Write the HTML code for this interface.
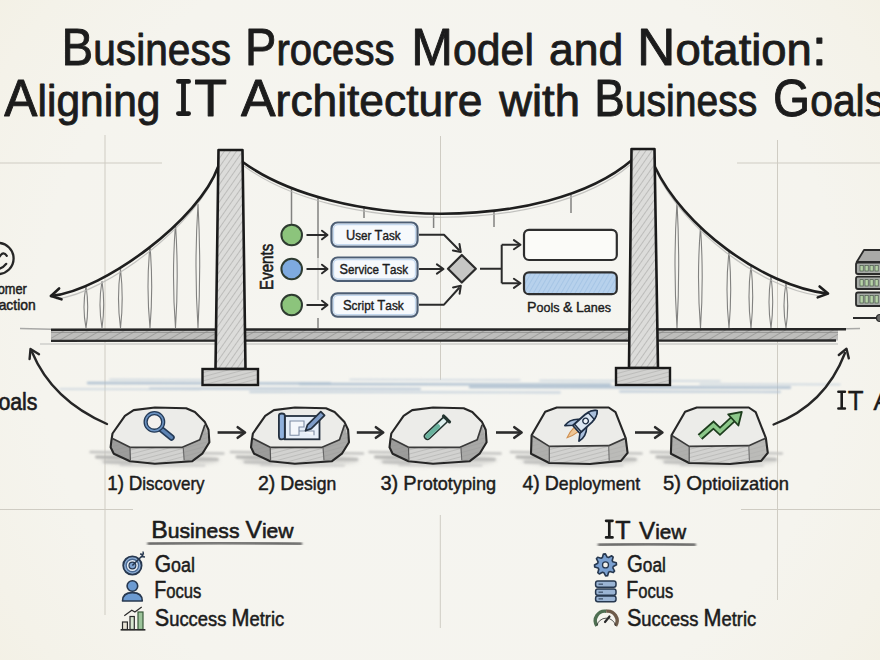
<!DOCTYPE html><html><head><meta charset="utf-8"><title>BPMN Bridge</title><style>
html,body{margin:0;padding:0;background:#f3f1e9;width:880px;height:660px;overflow:hidden}
svg{display:block}text{font-family:"Liberation Sans", sans-serif}
</style></head><body>
<svg width="880" height="660" viewBox="0 0 880 660">
<defs>
<pattern id="hatch" width="5" height="5" patternUnits="userSpaceOnUse" patternTransform="rotate(35)">
<rect width="5" height="5" fill="#dcdcda"/><line x1="0" y1="0" x2="0" y2="5" stroke="#b4b4b2" stroke-width="1.6"/></pattern>
<pattern id="hatchd" width="4" height="4" patternUnits="userSpaceOnUse" patternTransform="rotate(20)">
<rect width="4" height="4" fill="#b9b9b7"/><line x1="0" y1="0" x2="0" y2="4" stroke="#8e8e8c" stroke-width="1.3"/></pattern>
<pattern id="hatchs" width="4" height="4" patternUnits="userSpaceOnUse" patternTransform="rotate(75)">
<rect width="4" height="4" fill="#d2d2d0"/><line x1="0" y1="0" x2="0" y2="4" stroke="#b0b0ae" stroke-width="1.2"/></pattern>
<pattern id="hatchb" width="4" height="4" patternUnits="userSpaceOnUse" patternTransform="rotate(30)">
<rect width="4" height="4" fill="#b7d1ec"/><line x1="0" y1="0" x2="0" y2="4" stroke="#9fc0e3" stroke-width="1.4"/></pattern>
<pattern id="hatchdk" width="6" height="6" patternUnits="userSpaceOnUse" patternTransform="rotate(60)">
<rect width="6" height="6" fill="#bdbdbb"/><line x1="0" y1="0" x2="0" y2="6" stroke="#9f9f9d" stroke-width="2"/></pattern>
<filter id="blur2" x="-20%" y="-50%" width="140%" height="200%"><feGaussianBlur stdDeviation="2.2"/></filter>
<filter id="blur1" x="-20%" y="-50%" width="140%" height="200%"><feGaussianBlur stdDeviation="0.9"/></filter>
</defs>
<radialGradient id="bgg" cx="440" cy="330" r="575" gradientUnits="userSpaceOnUse"><stop offset="0" stop-color="#f5f5f1"/><stop offset="0.7" stop-color="#f5f4ee"/><stop offset="0.88" stop-color="#f4f2e9"/><stop offset="1" stop-color="#f3f0e4"/></radialGradient>
<rect width="880" height="660" fill="url(#bgg)"/>
<line x1="0" y1="163" x2="162" y2="163" stroke="#cfccc3" stroke-width="1"/>
<line x1="105" y1="135" x2="105" y2="615" stroke="#cfccc3" stroke-width="1"/>
<line x1="0" y1="509.5" x2="133" y2="509.5" stroke="#cfccc3" stroke-width="1"/>
<line x1="737" y1="163" x2="880" y2="163" stroke="#cfccc3" stroke-width="1"/>
<line x1="777.5" y1="140" x2="777.5" y2="600" stroke="#cfccc3" stroke-width="1"/>
<line x1="741" y1="509.5" x2="880" y2="509.5" stroke="#cfccc3" stroke-width="1"/>
<line x1="440.5" y1="136" x2="440.5" y2="380" stroke="#cfccc3" stroke-width="1"/>
<line x1="440.3" y1="515" x2="440.3" y2="628" stroke="#cfccc3" stroke-width="1"/>
<text x="61.55" y="65.00" font-size="44.0" textLength="169.46" lengthAdjust="spacingAndGlyphs" fill="#1c1c1c" stroke="#1c1c1c" stroke-width="0.90" stroke-linejoin="round"><tspan font-size="51.5">B</tspan><tspan font-size="44.0">u</tspan><tspan font-size="44.0">s</tspan><tspan font-size="44.0">i</tspan><tspan font-size="44.0">n</tspan><tspan font-size="44.0">e</tspan><tspan font-size="44.0">s</tspan><tspan font-size="44.0">s</tspan></text>
<text x="245.10" y="65.00" font-size="44.0" textLength="149.39" lengthAdjust="spacingAndGlyphs" fill="#1c1c1c" stroke="#1c1c1c" stroke-width="0.90" stroke-linejoin="round"><tspan font-size="51.5">P</tspan><tspan font-size="44.0">r</tspan><tspan font-size="44.0">o</tspan><tspan font-size="44.0">c</tspan><tspan font-size="44.0">e</tspan><tspan font-size="44.0">s</tspan><tspan font-size="44.0">s</tspan></text>
<text x="411.34" y="65.00" font-size="44.0" textLength="122.58" lengthAdjust="spacingAndGlyphs" fill="#1c1c1c" stroke="#1c1c1c" stroke-width="0.90" stroke-linejoin="round"><tspan font-size="51.5">M</tspan><tspan font-size="44.0">o</tspan><tspan font-size="44.0">d</tspan><tspan font-size="44.0">e</tspan><tspan font-size="44.0">l</tspan></text>
<text x="549.08" y="65.00" font-size="44.0" textLength="74.33" lengthAdjust="spacingAndGlyphs" fill="#1c1c1c" stroke="#1c1c1c" stroke-width="0.90" stroke-linejoin="round"><tspan font-size="44.0">a</tspan><tspan font-size="44.0">n</tspan><tspan font-size="44.0">d</tspan></text>
<text x="637.09" y="65.00" font-size="44.0" textLength="189.59" lengthAdjust="spacingAndGlyphs" fill="#1c1c1c" stroke="#1c1c1c" stroke-width="0.90" stroke-linejoin="round"><tspan font-size="51.5">N</tspan><tspan font-size="44.0">o</tspan><tspan font-size="44.0">t</tspan><tspan font-size="44.0">a</tspan><tspan font-size="44.0">t</tspan><tspan font-size="44.0">i</tspan><tspan font-size="44.0">o</tspan><tspan font-size="44.0">n</tspan><tspan font-size="51.5">:</tspan></text>
<text x="4.35" y="115.60" font-size="44.0" textLength="156.13" lengthAdjust="spacingAndGlyphs" fill="#1c1c1c" stroke="#1c1c1c" stroke-width="0.90" stroke-linejoin="round"><tspan font-size="51.5">A</tspan><tspan font-size="44.0">l</tspan><tspan font-size="44.0">i</tspan><tspan font-size="44.0">g</tspan><tspan font-size="44.0">n</tspan><tspan font-size="44.0">i</tspan><tspan font-size="44.0">n</tspan><tspan font-size="44.0">g</tspan></text>
<path d="M178.4 81.4 H188.6 M183.5 81.4 V113.6 M178.4 113.6 H188.6" fill="none" stroke="#1c1c1c" stroke-width="4.8" stroke-linecap="round"/>
<text x="194.27" y="115.60" font-size="51.50" textLength="32.81" lengthAdjust="spacingAndGlyphs" fill="#1c1c1c" stroke="#1c1c1c" stroke-width="0.90" stroke-linejoin="round" >T</text>
<text x="241.05" y="115.60" font-size="44.0" textLength="241.46" lengthAdjust="spacingAndGlyphs" fill="#1c1c1c" stroke="#1c1c1c" stroke-width="0.90" stroke-linejoin="round"><tspan font-size="51.5">A</tspan><tspan font-size="44.0">r</tspan><tspan font-size="44.0">c</tspan><tspan font-size="44.0">h</tspan><tspan font-size="44.0">i</tspan><tspan font-size="44.0">t</tspan><tspan font-size="44.0">e</tspan><tspan font-size="44.0">c</tspan><tspan font-size="44.0">t</tspan><tspan font-size="44.0">u</tspan><tspan font-size="44.0">r</tspan><tspan font-size="44.0">e</tspan></text>
<text x="499.20" y="115.60" font-size="44.0" textLength="80.82" lengthAdjust="spacingAndGlyphs" fill="#1c1c1c" stroke="#1c1c1c" stroke-width="0.90" stroke-linejoin="round"><tspan font-size="44.0">w</tspan><tspan font-size="44.0">i</tspan><tspan font-size="44.0">t</tspan><tspan font-size="44.0">h</tspan></text>
<text x="594.20" y="115.60" font-size="44.0" textLength="163.06" lengthAdjust="spacingAndGlyphs" fill="#1c1c1c" stroke="#1c1c1c" stroke-width="0.90" stroke-linejoin="round"><tspan font-size="51.5">B</tspan><tspan font-size="44.0">u</tspan><tspan font-size="44.0">s</tspan><tspan font-size="44.0">i</tspan><tspan font-size="44.0">n</tspan><tspan font-size="44.0">e</tspan><tspan font-size="44.0">s</tspan><tspan font-size="44.0">s</tspan></text>
<text x="773.06" y="115.60" font-size="44.0" textLength="111.96" lengthAdjust="spacingAndGlyphs" fill="#1c1c1c" stroke="#1c1c1c" stroke-width="0.90" stroke-linejoin="round"><tspan font-size="51.5">G</tspan><tspan font-size="44.0">o</tspan><tspan font-size="44.0">a</tspan><tspan font-size="44.0">l</tspan><tspan font-size="44.0">s</tspan></text>
<g filter="url(#blur1)">
<line x1="88" y1="383" x2="330" y2="383.5" stroke="#a9bccf" stroke-width="2.4" stroke-linecap="round" opacity="0.9"/>
<line x1="150" y1="388.5" x2="420" y2="389.0" stroke="#b5c5d5" stroke-width="2.2" stroke-linecap="round" opacity="0.9"/>
<line x1="300" y1="384" x2="610" y2="384.5" stroke="#aabdcf" stroke-width="2.4" stroke-linecap="round" opacity="0.9"/>
<line x1="250" y1="392" x2="560" y2="392.5" stroke="#c0ceda" stroke-width="1.8" stroke-linecap="round" opacity="0.9"/>
<line x1="470" y1="387" x2="790" y2="387.5" stroke="#a9bccf" stroke-width="2.4" stroke-linecap="round" opacity="0.9"/>
<line x1="620" y1="391.5" x2="780" y2="392.0" stroke="#b5c5d5" stroke-width="1.8" stroke-linecap="round" opacity="0.9"/>
<line x1="110" y1="379.5" x2="250" y2="380.0" stroke="#c5d1dc" stroke-width="1.6" stroke-linecap="round" opacity="0.9"/>
<line x1="540" y1="380.5" x2="720" y2="381.0" stroke="#c5d1dc" stroke-width="1.6" stroke-linecap="round" opacity="0.9"/>
<line x1="350" y1="379.5" x2="520" y2="380.0" stroke="#cbd5df" stroke-width="1.4" stroke-linecap="round" opacity="0.9"/>
<line x1="60" y1="389" x2="200" y2="389.5" stroke="#c5d1dc" stroke-width="1.4" stroke-linecap="round" opacity="0.9"/>
<line x1="700" y1="384" x2="840" y2="384.5" stroke="#c5d1dc" stroke-width="1.4" stroke-linecap="round" opacity="0.9"/>
</g>
<rect x="51" y="330" width="787" height="10.5" fill="url(#hatchdk)"/>
<line x1="51" y1="332.5" x2="838" y2="332.5" stroke="#8a8a88" stroke-width="1" opacity="0.7"/>
<line x1="40" y1="344" x2="838" y2="344" stroke="#d2d2ce" stroke-width="2" opacity="0.8"/>
<line x1="20" y1="328.5" x2="51" y2="329.2" stroke="#a8a8a6" stroke-width="1.4"/>
<line x1="836" y1="329" x2="860" y2="328.5" stroke="#a8a8a6" stroke-width="1.4"/>
<line x1="51" y1="329.7" x2="846" y2="329.3" stroke="#262626" stroke-width="2.5"/>
<line x1="51" y1="340.8" x2="836" y2="340.5" stroke="#2a2a2a" stroke-width="2.3"/>
<path d="M86.0 286.0 Q82.0 307.0 86.0 328.0 M86.0 286.0 Q89.4 307.0 86.0 328.0" fill="none" stroke="#828280" stroke-width="1.1"/>
<path d="M102.0 281.0 Q98.0 304.5 102.0 328.0 M102.0 281.0 Q105.4 304.5 102.0 328.0" fill="none" stroke="#828280" stroke-width="1.1"/>
<path d="M120.5 269.0 Q116.5 298.5 120.5 328.0 M120.5 269.0 Q123.9 298.5 120.5 328.0" fill="none" stroke="#828280" stroke-width="1.1"/>
<path d="M150.0 246.0 Q146.0 287.0 150.0 328.0 M150.0 246.0 Q153.4 287.0 150.0 328.0" fill="none" stroke="#828280" stroke-width="1.1"/>
<path d="M175.5 224.0 Q171.5 276.0 175.5 328.0 M175.5 224.0 Q178.9 276.0 175.5 328.0" fill="none" stroke="#828280" stroke-width="1.1"/>
<path d="M198.0 204.0 Q194.0 266.0 198.0 328.0 M198.0 204.0 Q201.4 266.0 198.0 328.0" fill="none" stroke="#828280" stroke-width="1.1"/>
<path d="M677.0 202.0 Q673.0 265.0 677.0 328.0 M677.0 202.0 Q680.4 265.0 677.0 328.0" fill="none" stroke="#828280" stroke-width="1.1"/>
<path d="M700.5 227.0 Q696.5 277.5 700.5 328.0 M700.5 227.0 Q703.9 277.5 700.5 328.0" fill="none" stroke="#828280" stroke-width="1.1"/>
<path d="M729.0 251.0 Q725.0 289.5 729.0 328.0 M729.0 251.0 Q732.4 289.5 729.0 328.0" fill="none" stroke="#828280" stroke-width="1.1"/>
<path d="M751.0 265.0 Q747.0 296.5 751.0 328.0 M751.0 265.0 Q754.4 296.5 751.0 328.0" fill="none" stroke="#828280" stroke-width="1.1"/>
<path d="M771.0 276.0 Q767.0 302.0 771.0 328.0 M771.0 276.0 Q774.4 302.0 771.0 328.0" fill="none" stroke="#828280" stroke-width="1.1"/>
<path d="M786.0 283.0 Q782.0 305.5 786.0 328.0 M786.0 283.0 Q789.4 305.5 786.0 328.0" fill="none" stroke="#828280" stroke-width="1.1"/>
<line x1="291.5" y1="188" x2="291.5" y2="224" stroke="#828280" stroke-width="1.5"/>
<line x1="318" y1="197" x2="318" y2="258" stroke="#828280" stroke-width="1.5"/>
<line x1="318" y1="258" x2="318" y2="300" stroke="#c4c4c2" stroke-width="1.2"/>
<line x1="318" y1="318" x2="318" y2="328" stroke="#828280" stroke-width="1.5"/>
<line x1="364" y1="206" x2="364" y2="218" stroke="#828280" stroke-width="1.5"/>
<line x1="433.6" y1="214" x2="433.6" y2="228" stroke="#828280" stroke-width="1.5"/>
<line x1="494" y1="210" x2="494" y2="227" stroke="#828280" stroke-width="1.5"/>
<line x1="571" y1="195" x2="571" y2="213" stroke="#828280" stroke-width="1.5"/>
<path d="M216 172 C198 222 108 293 56 299" fill="none" stroke="#b5b5b3" stroke-width="1.2" opacity="0.8"/>
<path d="M657 173 C684 229 760 288 820 296" fill="none" stroke="#b5b5b3" stroke-width="1.2" opacity="0.8"/>
<path d="M244 166 C334 233 547 236 630 165" fill="none" stroke="#b5b5b3" stroke-width="1.2" opacity="0.8"/>
<path d="M218 167 C199.6 218.6 105.5 290 51 296" fill="none" stroke="#1e1e1e" stroke-width="2.6" stroke-linecap="round"/>
<path d="M61.5 299.3 L51.0 296.0 L59.1 288.5" fill="none" stroke="#1e1e1e" stroke-width="2.6" stroke-linecap="round" stroke-linejoin="round"/>
<path d="M655 167 C682.5 225.6 761.3 285.3 827 293.6" fill="none" stroke="#1e1e1e" stroke-width="2.6" stroke-linecap="round"/>
<path d="M819.6 286.5 L828.0 293.6 L817.7 297.4" fill="none" stroke="#1e1e1e" stroke-width="2.6" stroke-linecap="round" stroke-linejoin="round"/>
<path d="M242 161.5 C334.1 229.5 547 233.2 632 160" fill="none" stroke="#1e1e1e" stroke-width="2.6" stroke-linecap="round"/>
<polygon points="218.5,150 242.5,150 245.5,369 215.5,369" fill="url(#hatch)" stroke="#1a1a1a" stroke-width="2.6" stroke-linejoin="round"/>
<rect x="202.5" y="369" width="55.5" height="16" fill="url(#hatchs)" stroke="#1a1a1a" stroke-width="2.4"/>
<polygon points="631.5,149 654.5,149 658,368 629,368" fill="url(#hatch)" stroke="#1a1a1a" stroke-width="2.6" stroke-linejoin="round"/>
<rect x="616" y="368" width="54" height="17" fill="url(#hatchs)" stroke="#1a1a1a" stroke-width="2.4"/>
<circle cx="291.7" cy="235" r="10.3" fill="#8cc47c" stroke="#2e3b30" stroke-width="2"/>
<line x1="306.5" y1="235" x2="326" y2="235" stroke="#2b2b2b" stroke-width="2"/>
<path d="M322.0 230.7 L327.5 235.0 L322.0 239.3" fill="none" stroke="#2b2b2b" stroke-width="2.0" stroke-linecap="round" stroke-linejoin="round"/>
<circle cx="291.7" cy="269" r="10.3" fill="#7eaadf" stroke="#2e3b30" stroke-width="2"/>
<line x1="306.5" y1="269" x2="326" y2="269" stroke="#2b2b2b" stroke-width="2"/>
<path d="M322.0 264.7 L327.5 269.0 L322.0 273.3" fill="none" stroke="#2b2b2b" stroke-width="2.0" stroke-linecap="round" stroke-linejoin="round"/>
<circle cx="291.7" cy="305" r="10.3" fill="#8cc47c" stroke="#2e3b30" stroke-width="2"/>
<line x1="306.5" y1="305" x2="326" y2="305" stroke="#2b2b2b" stroke-width="2"/>
<path d="M322.0 300.7 L327.5 305.0 L322.0 309.3" fill="none" stroke="#2b2b2b" stroke-width="2.0" stroke-linecap="round" stroke-linejoin="round"/>
<g transform="translate(272.5,0) rotate(-90 0 0)"><text x="-289.94" y="0.00" font-size="18.50" textLength="46.18" lengthAdjust="spacingAndGlyphs" fill="#1c1c1c" stroke="#1c1c1c" stroke-width="0.60" stroke-linejoin="round" >Events</text></g>
<rect x="331.5" y="222.5" width="86" height="24.19999999999999" rx="6" fill="#f6f9fc" stroke="#4d5e74" stroke-width="2.2"/>
<rect x="333.5" y="224.5" width="82" height="20.19999999999999" rx="4.5" fill="none" stroke="#c4d8ee" stroke-width="1.3"/>
<text x="345.91" y="239.80" font-size="13.2" textLength="54.67" lengthAdjust="spacingAndGlyphs" fill="#1c1c1c" stroke="#1c1c1c" stroke-width="0.40" stroke-linejoin="round"><tspan font-size="14.5">U</tspan><tspan font-size="13.2">s</tspan><tspan font-size="13.2">e</tspan><tspan font-size="13.2">r</tspan><tspan font-size="13.2"> </tspan><tspan font-size="14.5">T</tspan><tspan font-size="13.2">a</tspan><tspan font-size="13.2">s</tspan><tspan font-size="13.2">k</tspan></text>
<rect x="331.5" y="257.5" width="86" height="23.30000000000001" rx="6" fill="#f6f9fc" stroke="#4d5e74" stroke-width="2.2"/>
<rect x="333.5" y="259.5" width="82" height="19.30000000000001" rx="4.5" fill="none" stroke="#c4d8ee" stroke-width="1.3"/>
<text x="339.61" y="274.35" font-size="13.2" textLength="68.47" lengthAdjust="spacingAndGlyphs" fill="#1c1c1c" stroke="#1c1c1c" stroke-width="0.40" stroke-linejoin="round"><tspan font-size="14.5">S</tspan><tspan font-size="13.2">e</tspan><tspan font-size="13.2">r</tspan><tspan font-size="13.2">v</tspan><tspan font-size="13.2">i</tspan><tspan font-size="13.2">c</tspan><tspan font-size="13.2">e</tspan><tspan font-size="13.2"> </tspan><tspan font-size="14.5">T</tspan><tspan font-size="13.2">a</tspan><tspan font-size="13.2">s</tspan><tspan font-size="13.2">k</tspan></text>
<rect x="331.5" y="293.3" width="86" height="23.399999999999977" rx="6" fill="#f6f9fc" stroke="#4d5e74" stroke-width="2.2"/>
<rect x="333.5" y="295.3" width="82" height="19.399999999999977" rx="4.5" fill="none" stroke="#c4d8ee" stroke-width="1.3"/>
<text x="342.90" y="310.20" font-size="13.2" textLength="60.89" lengthAdjust="spacingAndGlyphs" fill="#1c1c1c" stroke="#1c1c1c" stroke-width="0.40" stroke-linejoin="round"><tspan font-size="14.5">S</tspan><tspan font-size="13.2">c</tspan><tspan font-size="13.2">r</tspan><tspan font-size="13.2">i</tspan><tspan font-size="13.2">p</tspan><tspan font-size="13.2">t</tspan><tspan font-size="13.2"> </tspan><tspan font-size="14.5">T</tspan><tspan font-size="13.2">a</tspan><tspan font-size="13.2">s</tspan><tspan font-size="13.2">k</tspan></text>
<path d="M419 234.7 L444 234.7 L459.5 250.5" fill="none" stroke="#2b2b2b" stroke-width="2" stroke-linejoin="round"/>
<path d="M459.5 244.1 L460.8 252.0 L452.9 250.5" fill="none" stroke="#2b2b2b" stroke-width="2.0" stroke-linecap="round" stroke-linejoin="round"/>
<line x1="419" y1="269" x2="442" y2="269" stroke="#2b2b2b" stroke-width="2"/>
<path d="M436.9 264.4 L443.5 269.0 L436.9 273.6" fill="none" stroke="#2b2b2b" stroke-width="2.0" stroke-linecap="round" stroke-linejoin="round"/>
<path d="M419 304.7 L444 304.7 L459.5 287.5" fill="none" stroke="#2b2b2b" stroke-width="2" stroke-linejoin="round"/>
<path d="M453.0 287.4 L460.8 285.8 L459.6 293.7" fill="none" stroke="#2b2b2b" stroke-width="2.0" stroke-linecap="round" stroke-linejoin="round"/>
<polygon points="461.8,255 475.8,268.7 461.8,282.5 448,268.7" fill="#c6c6c4" stroke="#2b2b2b" stroke-width="2.2" stroke-linejoin="round"/>
<path d="M480 268.7 L501.7 268.7 M501.7 244.7 L501.7 283.3 M501.7 244.7 L519 244.7 M501.7 283.3 L519 283.3" fill="none" stroke="#2b2b2b" stroke-width="2"/>
<path d="M513.9 240.1 L520.5 244.7 L513.9 249.3" fill="none" stroke="#2b2b2b" stroke-width="2.0" stroke-linecap="round" stroke-linejoin="round"/>
<path d="M513.9 278.7 L520.5 283.3 L513.9 287.9" fill="none" stroke="#2b2b2b" stroke-width="2.0" stroke-linecap="round" stroke-linejoin="round"/>
<rect x="524" y="229.8" width="92.8" height="30.2" rx="5" fill="#fbfbf8" stroke="#2e2e2e" stroke-width="2.2"/>
<rect x="524" y="272.3" width="92.8" height="21.9" rx="5" fill="url(#hatchb)" stroke="#2e2e2e" stroke-width="2.2"/>
<text x="527.04" y="312.40" font-size="13.6" textLength="84.02" lengthAdjust="spacingAndGlyphs" fill="#1c1c1c" stroke="#1c1c1c" stroke-width="0.40" stroke-linejoin="round"><tspan font-size="15.4">P</tspan><tspan font-size="13.6">o</tspan><tspan font-size="13.6">o</tspan><tspan font-size="13.6">l</tspan><tspan font-size="13.6">s</tspan><tspan font-size="13.6"> </tspan><tspan font-size="15.4">&amp;</tspan><tspan font-size="13.6"> </tspan><tspan font-size="15.4">L</tspan><tspan font-size="13.6">a</tspan><tspan font-size="13.6">n</tspan><tspan font-size="13.6">e</tspan><tspan font-size="13.6">s</tspan></text>
<ellipse cx="160.0" cy="460.0" rx="59.4" ry="6" fill="#b5b5b3" opacity="0.5" filter="url(#blur2)"/>
<g filter="url(#blur1)" stroke-linecap="round">
<line x1="90.6" y1="452.0" x2="118.6" y2="452.5" stroke="#c2c2c0" stroke-width="2.5"/>
<line x1="96.6" y1="457.0" x2="120.6" y2="457.5" stroke="#b3b3b1" stroke-width="3"/>
<line x1="104.6" y1="462.0" x2="130.6" y2="462.5" stroke="#bdbdbb" stroke-width="2.5"/>
<line x1="197.4" y1="453.0" x2="223.4" y2="453.5" stroke="#c4c4c2" stroke-width="2.5"/>
<line x1="195.4" y1="459.0" x2="217.4" y2="459.5" stroke="#b8b8b6" stroke-width="2.5"/>
<line x1="120.6" y1="465.0" x2="204.4" y2="465.5" stroke="#cfcfcd" stroke-width="2"/>
</g>
<polygon points="111.3,441.1 112.5,433.5 124.9,415.8 133.7,410.1 154.9,407.5 186.1,408.2 194.9,412.0 204.9,422.1 208.5,429.7 209.4,442.3 202.3,453.7 192.3,461.2 154.9,463.8 130.0,461.2 113.8,453.7 110.6,447.3" fill="url(#hatchs)"/>
<polygon points="111.3,441.1 112.5,438.5 130.0,447.3 130.0,461.2 113.8,453.7 110.6,447.3" fill="#8f8f8d" opacity="0.8"/>
<polygon points="182.3,447.3 199.8,439.8 204.9,424.7 209.4,442.3 202.3,453.7 192.3,461.2 183.7,461.7" fill="#979795" opacity="0.7"/>
<polygon points="112.5,438.5 112.5,433.5 124.9,415.8 133.7,410.1 154.9,407.5 186.1,408.2 194.9,412.0 204.9,422.1 204.9,424.7 199.8,439.8 182.3,447.3 130.0,447.3" fill="#ecece9"/>
<polygon points="111.3,441.1 112.5,433.5 124.9,415.8 133.7,410.1 154.9,407.5 186.1,408.2 194.9,412.0 204.9,422.1 208.5,429.7 209.4,442.3 202.3,453.7 192.3,461.2 154.9,463.8 130.0,461.2 113.8,453.7 110.6,447.3" fill="none" stroke="#262626" stroke-width="2.1" stroke-linejoin="round"/>
<polyline points="112.5,438.5 130.0,447.3 182.3,447.3 199.8,439.8 204.9,424.7" fill="none" stroke="#3a3a3a" stroke-width="1.7" stroke-linejoin="round"/>
<line x1="130.0" y1="447.3" x2="130.4" y2="460.6" stroke="#555" stroke-width="1.2"/>
<line x1="183.3" y1="447.3" x2="184.2" y2="460.0" stroke="#666" stroke-width="1"/>
<ellipse cx="300.0" cy="460.0" rx="59.0" ry="6" fill="#b5b5b3" opacity="0.5" filter="url(#blur2)"/>
<g filter="url(#blur1)" stroke-linecap="round">
<line x1="231.0" y1="452.0" x2="259.0" y2="452.5" stroke="#c2c2c0" stroke-width="2.5"/>
<line x1="237.0" y1="457.0" x2="261.0" y2="457.5" stroke="#b3b3b1" stroke-width="3"/>
<line x1="245.0" y1="462.0" x2="271.0" y2="462.5" stroke="#bdbdbb" stroke-width="2.5"/>
<line x1="337.0" y1="453.0" x2="363.0" y2="453.5" stroke="#c4c4c2" stroke-width="2.5"/>
<line x1="335.0" y1="459.0" x2="357.0" y2="459.5" stroke="#b8b8b6" stroke-width="2.5"/>
<line x1="261.0" y1="465.0" x2="344.0" y2="465.5" stroke="#cfcfcd" stroke-width="2"/>
</g>
<polygon points="251.7,441.1 252.9,433.5 265.2,415.8 273.9,410.1 294.9,407.5 325.9,408.2 334.6,412.0 344.5,422.1 348.1,429.7 349.0,442.3 341.9,453.7 332.0,461.2 294.9,463.8 270.2,461.2 254.1,453.7 251.0,447.3" fill="url(#hatchs)"/>
<polygon points="251.7,441.1 252.9,438.5 270.2,447.3 270.2,461.2 254.1,453.7 251.0,447.3" fill="#8f8f8d" opacity="0.8"/>
<polygon points="322.1,447.3 339.5,439.8 344.5,424.7 349.0,442.3 341.9,453.7 332.0,461.2 323.5,461.7" fill="#979795" opacity="0.7"/>
<polygon points="252.9,438.5 252.9,433.5 265.2,415.8 273.9,410.1 294.9,407.5 325.9,408.2 334.6,412.0 344.5,422.1 344.5,424.7 339.5,439.8 322.1,447.3 270.2,447.3" fill="#ecece9"/>
<polygon points="251.7,441.1 252.9,433.5 265.2,415.8 273.9,410.1 294.9,407.5 325.9,408.2 334.6,412.0 344.5,422.1 348.1,429.7 349.0,442.3 341.9,453.7 332.0,461.2 294.9,463.8 270.2,461.2 254.1,453.7 251.0,447.3" fill="none" stroke="#262626" stroke-width="2.1" stroke-linejoin="round"/>
<polyline points="252.9,438.5 270.2,447.3 322.1,447.3 339.5,439.8 344.5,424.7" fill="none" stroke="#3a3a3a" stroke-width="1.7" stroke-linejoin="round"/>
<line x1="270.2" y1="447.3" x2="270.6" y2="460.6" stroke="#555" stroke-width="1.2"/>
<line x1="323.1" y1="447.3" x2="324.0" y2="460.0" stroke="#666" stroke-width="1"/>
<ellipse cx="438.1" cy="460.0" rx="58.6" ry="6" fill="#b5b5b3" opacity="0.5" filter="url(#blur2)"/>
<g filter="url(#blur1)" stroke-linecap="round">
<line x1="369.5" y1="452.0" x2="397.5" y2="452.5" stroke="#c2c2c0" stroke-width="2.5"/>
<line x1="375.5" y1="457.0" x2="399.5" y2="457.5" stroke="#b3b3b1" stroke-width="3"/>
<line x1="383.5" y1="462.0" x2="409.5" y2="462.5" stroke="#bdbdbb" stroke-width="2.5"/>
<line x1="474.6" y1="453.0" x2="500.6" y2="453.5" stroke="#c4c4c2" stroke-width="2.5"/>
<line x1="472.6" y1="459.0" x2="494.6" y2="459.5" stroke="#b8b8b6" stroke-width="2.5"/>
<line x1="399.5" y1="465.0" x2="481.6" y2="465.5" stroke="#cfcfcd" stroke-width="2"/>
</g>
<polygon points="390.2,441.1 391.3,433.5 403.6,415.8 412.2,410.1 433.0,407.5 463.7,408.2 472.3,412.0 482.1,422.1 485.7,429.7 486.6,442.3 479.6,453.7 469.8,461.2 433.0,463.8 408.5,461.2 392.6,453.7 389.5,447.3" fill="url(#hatchs)"/>
<polygon points="390.2,441.1 391.3,438.5 408.5,447.3 408.5,461.2 392.6,453.7 389.5,447.3" fill="#8f8f8d" opacity="0.8"/>
<polygon points="460.0,447.3 477.2,439.8 482.1,424.7 486.6,442.3 479.6,453.7 469.8,461.2 461.4,461.7" fill="#979795" opacity="0.7"/>
<polygon points="391.3,438.5 391.3,433.5 403.6,415.8 412.2,410.1 433.0,407.5 463.7,408.2 472.3,412.0 482.1,422.1 482.1,424.7 477.2,439.8 460.0,447.3 408.5,447.3" fill="#ecece9"/>
<polygon points="390.2,441.1 391.3,433.5 403.6,415.8 412.2,410.1 433.0,407.5 463.7,408.2 472.3,412.0 482.1,422.1 485.7,429.7 486.6,442.3 479.6,453.7 469.8,461.2 433.0,463.8 408.5,461.2 392.6,453.7 389.5,447.3" fill="none" stroke="#262626" stroke-width="2.1" stroke-linejoin="round"/>
<polyline points="391.3,438.5 408.5,447.3 460.0,447.3 477.2,439.8 482.1,424.7" fill="none" stroke="#3a3a3a" stroke-width="1.7" stroke-linejoin="round"/>
<line x1="408.5" y1="447.3" x2="408.9" y2="460.6" stroke="#555" stroke-width="1.2"/>
<line x1="461.0" y1="447.3" x2="461.8" y2="460.0" stroke="#666" stroke-width="1"/>
<ellipse cx="579.3" cy="460.0" rx="58.3" ry="6" fill="#b5b5b3" opacity="0.5" filter="url(#blur2)"/>
<g filter="url(#blur1)" stroke-linecap="round">
<line x1="511.0" y1="452.0" x2="539.0" y2="452.5" stroke="#c2c2c0" stroke-width="2.5"/>
<line x1="517.0" y1="457.0" x2="541.0" y2="457.5" stroke="#b3b3b1" stroke-width="3"/>
<line x1="525.0" y1="462.0" x2="551.0" y2="462.5" stroke="#bdbdbb" stroke-width="2.5"/>
<line x1="615.6" y1="453.0" x2="641.6" y2="453.5" stroke="#c4c4c2" stroke-width="2.5"/>
<line x1="613.6" y1="459.0" x2="635.6" y2="459.5" stroke="#b8b8b6" stroke-width="2.5"/>
<line x1="541.0" y1="465.0" x2="622.6" y2="465.5" stroke="#cfcfcd" stroke-width="2"/>
</g>
<polygon points="531.6,435.3 545.2,411.7 556.8,407.5 608.7,407.5 615.5,412.1 625.7,438.1 627.6,452.8 621.0,460.9 590.0,464.0 549.3,463.0 531.0,453.8" fill="url(#hatchs)"/>
<polygon points="531.6,435.3 549.3,446.4 549.3,463.0 531.0,453.8" fill="#a6a6a4" opacity="0.8"/>
<polygon points="608.7,445.7 625.7,438.1 627.6,452.8 621.0,460.9 609.2,462.3" fill="#b0b0ae" opacity="0.7"/>
<polygon points="531.6,435.3 545.2,411.7 556.8,407.5 608.7,407.5 615.5,412.1 625.7,438.1 608.7,445.7 549.3,446.4" fill="#ecece9"/>
<polygon points="531.6,435.3 545.2,411.7 556.8,407.5 608.7,407.5 615.5,412.1 625.7,438.1 627.6,452.8 621.0,460.9 590.0,464.0 549.3,463.0 531.0,453.8" fill="none" stroke="#262626" stroke-width="2.1" stroke-linejoin="round"/>
<polyline points="531.6,435.3 549.3,446.4 608.7,445.7 625.7,438.1" fill="none" stroke="#3a3a3a" stroke-width="1.7" stroke-linejoin="round"/>
<line x1="549.3" y1="446.4" x2="549.3" y2="462.6" stroke="#555" stroke-width="1.2"/>
<line x1="608.7" y1="445.7" x2="609.2" y2="461.7" stroke="#666" stroke-width="1"/>
<ellipse cx="719.3" cy="460.0" rx="58.4" ry="6" fill="#b5b5b3" opacity="0.5" filter="url(#blur2)"/>
<g filter="url(#blur1)" stroke-linecap="round">
<line x1="650.9" y1="452.0" x2="678.9" y2="452.5" stroke="#c2c2c0" stroke-width="2.5"/>
<line x1="656.9" y1="457.0" x2="680.9" y2="457.5" stroke="#b3b3b1" stroke-width="3"/>
<line x1="664.9" y1="462.0" x2="690.9" y2="462.5" stroke="#bdbdbb" stroke-width="2.5"/>
<line x1="755.8" y1="453.0" x2="781.8" y2="453.5" stroke="#c4c4c2" stroke-width="2.5"/>
<line x1="753.8" y1="459.0" x2="775.8" y2="459.5" stroke="#b8b8b6" stroke-width="2.5"/>
<line x1="680.9" y1="465.0" x2="762.8" y2="465.5" stroke="#cfcfcd" stroke-width="2"/>
</g>
<polygon points="671.5,435.3 685.1,411.7 696.8,407.5 748.8,407.5 755.7,412.1 765.9,438.1 767.8,452.8 761.2,460.9 730.1,464.0 689.2,463.0 670.9,453.8" fill="url(#hatchs)"/>
<polygon points="671.5,435.3 689.2,446.4 689.2,463.0 670.9,453.8" fill="#a6a6a4" opacity="0.8"/>
<polygon points="748.8,445.7 765.9,438.1 767.8,452.8 761.2,460.9 749.4,462.3" fill="#b0b0ae" opacity="0.7"/>
<polygon points="671.5,435.3 685.1,411.7 696.8,407.5 748.8,407.5 755.7,412.1 765.9,438.1 748.8,445.7 689.2,446.4" fill="#ecece9"/>
<polygon points="671.5,435.3 685.1,411.7 696.8,407.5 748.8,407.5 755.7,412.1 765.9,438.1 767.8,452.8 761.2,460.9 730.1,464.0 689.2,463.0 670.9,453.8" fill="none" stroke="#262626" stroke-width="2.1" stroke-linejoin="round"/>
<polyline points="671.5,435.3 689.2,446.4 748.8,445.7 765.9,438.1" fill="none" stroke="#3a3a3a" stroke-width="1.7" stroke-linejoin="round"/>
<line x1="689.2" y1="446.4" x2="689.2" y2="462.6" stroke="#555" stroke-width="1.2"/>
<line x1="748.8" y1="445.7" x2="749.4" y2="461.7" stroke="#666" stroke-width="1"/>
<line x1="217.6" y1="432.5" x2="244" y2="432.5" stroke="#2b2b2b" stroke-width="2.6"/>
<path d="M237.7 427.2 L245.0 432.5 L237.7 437.8" fill="none" stroke="#2b2b2b" stroke-width="2.6" stroke-linecap="round" stroke-linejoin="round"/>
<line x1="356.8" y1="432.5" x2="382.2" y2="432.5" stroke="#2b2b2b" stroke-width="2.6"/>
<path d="M375.9 427.2 L383.2 432.5 L375.9 437.8" fill="none" stroke="#2b2b2b" stroke-width="2.6" stroke-linecap="round" stroke-linejoin="round"/>
<line x1="496" y1="432.5" x2="520.6" y2="432.5" stroke="#2b2b2b" stroke-width="2.6"/>
<path d="M514.3 427.2 L521.6 432.5 L514.3 437.8" fill="none" stroke="#2b2b2b" stroke-width="2.6" stroke-linecap="round" stroke-linejoin="round"/>
<line x1="635" y1="432.5" x2="661.4" y2="432.5" stroke="#2b2b2b" stroke-width="2.6"/>
<path d="M655.1 427.2 L662.4 432.5 L655.1 437.8" fill="none" stroke="#2b2b2b" stroke-width="2.6" stroke-linecap="round" stroke-linejoin="round"/>
<text x="107.30" y="489.60" font-size="17.8" textLength="97.31" lengthAdjust="spacingAndGlyphs" fill="#1c1c1c" stroke="#1c1c1c" stroke-width="0.45" stroke-linejoin="round"><tspan font-size="19.7">1</tspan><tspan font-size="19.7">)</tspan><tspan font-size="17.8"> </tspan><tspan font-size="19.7">D</tspan><tspan font-size="17.8">i</tspan><tspan font-size="17.8">s</tspan><tspan font-size="17.8">c</tspan><tspan font-size="17.8">o</tspan><tspan font-size="17.8">v</tspan><tspan font-size="17.8">e</tspan><tspan font-size="17.8">r</tspan><tspan font-size="17.8">y</tspan></text>
<text x="257.95" y="489.60" font-size="17.8" textLength="78.37" lengthAdjust="spacingAndGlyphs" fill="#1c1c1c" stroke="#1c1c1c" stroke-width="0.45" stroke-linejoin="round"><tspan font-size="19.7">2</tspan><tspan font-size="19.7">)</tspan><tspan font-size="17.8"> </tspan><tspan font-size="19.7">D</tspan><tspan font-size="17.8">e</tspan><tspan font-size="17.8">s</tspan><tspan font-size="17.8">i</tspan><tspan font-size="17.8">g</tspan><tspan font-size="17.8">n</tspan></text>
<text x="380.46" y="489.60" font-size="17.8" textLength="115.67" lengthAdjust="spacingAndGlyphs" fill="#1c1c1c" stroke="#1c1c1c" stroke-width="0.45" stroke-linejoin="round"><tspan font-size="19.7">3</tspan><tspan font-size="19.7">)</tspan><tspan font-size="17.8"> </tspan><tspan font-size="19.7">P</tspan><tspan font-size="17.8">r</tspan><tspan font-size="17.8">o</tspan><tspan font-size="17.8">t</tspan><tspan font-size="17.8">o</tspan><tspan font-size="17.8">t</tspan><tspan font-size="17.8">y</tspan><tspan font-size="17.8">p</tspan><tspan font-size="17.8">i</tspan><tspan font-size="17.8">n</tspan><tspan font-size="17.8">g</tspan></text>
<text x="522.48" y="489.60" font-size="17.8" textLength="117.72" lengthAdjust="spacingAndGlyphs" fill="#1c1c1c" stroke="#1c1c1c" stroke-width="0.45" stroke-linejoin="round"><tspan font-size="19.7">4</tspan><tspan font-size="19.7">)</tspan><tspan font-size="17.8"> </tspan><tspan font-size="19.7">D</tspan><tspan font-size="17.8">e</tspan><tspan font-size="17.8">p</tspan><tspan font-size="17.8">l</tspan><tspan font-size="17.8">o</tspan><tspan font-size="17.8">y</tspan><tspan font-size="17.8">m</tspan><tspan font-size="17.8">e</tspan><tspan font-size="17.8">n</tspan><tspan font-size="17.8">t</tspan></text>
<text x="663.01" y="489.60" font-size="17.8" textLength="125.96" lengthAdjust="spacingAndGlyphs" fill="#1c1c1c" stroke="#1c1c1c" stroke-width="0.45" stroke-linejoin="round"><tspan font-size="19.7">5</tspan><tspan font-size="19.7">)</tspan><tspan font-size="17.8"> </tspan><tspan font-size="19.7">O</tspan><tspan font-size="17.8">p</tspan><tspan font-size="17.8">t</tspan><tspan font-size="17.8">i</tspan><tspan font-size="17.8">o</tspan><tspan font-size="17.8">i</tspan><tspan font-size="17.8">i</tspan><tspan font-size="17.8">z</tspan><tspan font-size="17.8">a</tspan><tspan font-size="17.8">t</tspan><tspan font-size="17.8">i</tspan><tspan font-size="17.8">o</tspan><tspan font-size="17.8">n</tspan></text>
<line x1="161" y1="429" x2="171.5" y2="437.5" stroke="#243a57" stroke-width="6.5" stroke-linecap="round"/>
<line x1="161" y1="429" x2="171.5" y2="437.5" stroke="#5d83b3" stroke-width="3.2" stroke-linecap="round"/>
<circle cx="154.4" cy="421.9" r="8.8" fill="#f4f1ee" stroke="#243a57" stroke-width="4.2"/>
<circle cx="154.4" cy="421.9" r="8.8" fill="none" stroke="#6c93c2" stroke-width="1.6"/>
<rect x="284.8" y="416" width="34.7" height="23.3" fill="#e6eef8" stroke="#24303f" stroke-width="1.8"/>
<path d="M290 421 H304 V427 H299 V435.3 H290 Z M299 431 H314 V435.3" fill="#f4f7fb" stroke="#7d8ca3" stroke-width="1.1"/>
<path d="M278.9 415.5 Q278.9 413.5 281.8 413.5 Q284.8 413.5 284.8 415.5 V437.5 Q284.8 439.3 281 439.3 Q278.9 439.3 278.9 436 Z" fill="#8fb0dc" stroke="#24303f" stroke-width="1.8"/>
<path d="M305.5 430.8 L307.5 424.8 L320.8 411.6 L324.6 415.4 L311.3 428.6 Z" fill="#7e9cc8" stroke="#24303f" stroke-width="1.7" stroke-linejoin="round"/>
<line x1="427.5" y1="436.3" x2="444.5" y2="420.3" stroke="#233430" stroke-width="7.6" stroke-linecap="round"/>
<line x1="427.5" y1="436.3" x2="444.5" y2="420.3" stroke="#dff0ef" stroke-width="4.4" stroke-linecap="round"/>
<line x1="427.5" y1="436.3" x2="438" y2="426.4" stroke="#68b29d" stroke-width="4.4" stroke-linecap="round"/>
<line x1="443.5" y1="416" x2="449.5" y2="421.8" stroke="#233430" stroke-width="3.2" stroke-linecap="round"/>
<g transform="translate(585.6,421) rotate(-42)"><path d="M-12.5 -3 Q-19 -2.6 -25 0 Q-19 2.6 -12.5 3 Z" fill="#efc594" stroke="#d09050" stroke-width="1"/><path d="M-3 -5 Q-10 -12.5 -18.5 -10.5 L-12 -5 Z" fill="#a9bfdc" stroke="#1e2e45" stroke-width="1.6" stroke-linejoin="round"/><path d="M-3 5 Q-10 12.5 -18.5 10.5 L-12 5 Z" fill="#a9bfdc" stroke="#1e2e45" stroke-width="1.6" stroke-linejoin="round"/><path d="M-12.5 -5.2 L4 -5.2 Q12 -4.2 15.5 0 Q12 4.2 4 5.2 L-12.5 5.2 Z" fill="#dbe6f2" stroke="#1e2e45" stroke-width="1.8" stroke-linejoin="round"/><path d="M7.5 -4.7 Q12.5 -3.8 15.5 0 Q12.5 3.8 7.5 4.7 Z" fill="#a9bfdc" stroke="#1e2e45" stroke-width="1.4"/><line x1="-10.5" y1="-5" x2="-10.5" y2="5" stroke="#1e2e45" stroke-width="1.6"/><circle cx="0" cy="0" r="2.8" fill="#eef4fa" stroke="#1e2e45" stroke-width="1.4"/></g>
<path d="M700 437 L713.5 425.1 L720 431.2 L733.6 418.6" fill="none" stroke="#1d3d1d" stroke-width="7" stroke-linejoin="miter" stroke-linecap="butt"/>
<path d="M700 437 L713.5 425.1 L720 431.2 L733.6 418.6" fill="none" stroke="#8cc88a" stroke-width="3.6" stroke-linejoin="miter"/>
<polygon points="741.8,411.8 728.2,414.5 738.4,425.5" fill="#8cc88a" stroke="#1d3d1d" stroke-width="1.8" stroke-linejoin="round"/>
<circle cx="-2" cy="258.5" r="15.6" fill="none" stroke="#262626" stroke-width="2.3"/>
<path d="M-10 263 Q-2 274 6.3 263.8" fill="none" stroke="#262626" stroke-width="2.2" stroke-linecap="round"/>
<path d="M-0.5 256.8 Q3.3 250.5 6.8 255.8" fill="none" stroke="#262626" stroke-width="2.2" stroke-linecap="round"/>
<text x="-28.53" y="293.50" font-size="14.50" textLength="55.31" lengthAdjust="spacingAndGlyphs" fill="#1c1c1c" stroke="#1c1c1c" stroke-width="0.50" stroke-linejoin="round" >Customer</text>
<text x="-36.00" y="310.20" font-size="14.50" textLength="71.66" lengthAdjust="spacingAndGlyphs" fill="#1c1c1c" stroke="#1c1c1c" stroke-width="0.50" stroke-linejoin="round" >Satisfaction</text>
<path d="M107 424 Q52 400 32 352" fill="none" stroke="#262626" stroke-width="2.4" stroke-linecap="round"/>
<path d="M29.6 359.0 L30.5 349.0 L39.0 354.2" fill="none" stroke="#262626" stroke-width="2.4" stroke-linecap="round" stroke-linejoin="round"/>
<text x="-110.33" y="410.00" font-size="23.50" textLength="147.76" lengthAdjust="spacingAndGlyphs" fill="#1c1c1c" stroke="#1c1c1c" stroke-width="0.66" stroke-linejoin="round" >Business Goals</text>
<path d="M773.6 424.5 Q825 405 845 353" fill="none" stroke="#262626" stroke-width="2.4" stroke-linecap="round"/>
<path d="M838.8 355.0 L846.5 348.7 L848.8 358.4" fill="none" stroke="#262626" stroke-width="2.4" stroke-linecap="round" stroke-linejoin="round"/>
<path d="M838.4 391.8 H844.9 M841.7 391.8 V408.5 M838.4 408.5 H844.9" fill="none" stroke="#1c1c1c" stroke-width="2.6" stroke-linecap="round"/>
<text x="847.78" y="409.80" font-size="28.00" textLength="15.86" lengthAdjust="spacingAndGlyphs" fill="#1c1c1c" stroke="#1c1c1c" stroke-width="0.30" stroke-linejoin="round" >T</text>
<text x="873.29" y="409.80" font-size="28.00" textLength="149.39" lengthAdjust="spacingAndGlyphs" fill="#1c1c1c" stroke="#1c1c1c" stroke-width="0.30" stroke-linejoin="round" >Architecture</text>
<polygon points="856.7,262 864,250 885,250 885,262" fill="#a9a9a7" stroke="#2a2a2a" stroke-width="1.8" stroke-linejoin="round"/>
<rect x="856" y="262.5" width="30" height="11.5" rx="2" fill="#a6aaa6" stroke="#2a2a2a" stroke-width="1.8"/>
<rect x="860" y="265.5" width="3.2" height="5.5" fill="#b7d3a8" stroke="#3b4a3b" stroke-width="0.6"/>
<rect x="865" y="265.5" width="3.2" height="5.5" fill="#b7d3a8" stroke="#3b4a3b" stroke-width="0.6"/>
<rect x="870" y="265.5" width="3.2" height="5.5" fill="#b7d3a8" stroke="#3b4a3b" stroke-width="0.6"/>
<rect x="875" y="265.5" width="3.2" height="5.5" fill="#b7d3a8" stroke="#3b4a3b" stroke-width="0.6"/>
<rect x="856" y="276.7" width="30" height="12.300000000000011" rx="2" fill="#a6aaa6" stroke="#2a2a2a" stroke-width="1.8"/>
<rect x="860" y="279.7" width="3.2" height="6.300000000000011" fill="#b7d3a8" stroke="#3b4a3b" stroke-width="0.6"/>
<rect x="865" y="279.7" width="3.2" height="6.300000000000011" fill="#b7d3a8" stroke="#3b4a3b" stroke-width="0.6"/>
<rect x="870" y="279.7" width="3.2" height="6.300000000000011" fill="#b7d3a8" stroke="#3b4a3b" stroke-width="0.6"/>
<rect x="875" y="279.7" width="3.2" height="6.300000000000011" fill="#b7d3a8" stroke="#3b4a3b" stroke-width="0.6"/>
<rect x="856" y="292.5" width="30" height="13.5" rx="2" fill="#a6aaa6" stroke="#2a2a2a" stroke-width="1.8"/>
<rect x="860" y="295.5" width="3.2" height="7.5" fill="#b7d3a8" stroke="#3b4a3b" stroke-width="0.6"/>
<rect x="865" y="295.5" width="3.2" height="7.5" fill="#b7d3a8" stroke="#3b4a3b" stroke-width="0.6"/>
<rect x="870" y="295.5" width="3.2" height="7.5" fill="#b7d3a8" stroke="#3b4a3b" stroke-width="0.6"/>
<rect x="875" y="295.5" width="3.2" height="7.5" fill="#b7d3a8" stroke="#3b4a3b" stroke-width="0.6"/>
<line x1="853" y1="318" x2="876" y2="318" stroke="#2a2a2a" stroke-width="2"/>
<circle cx="880" cy="318" r="3.5" fill="#6b6b69" stroke="#2a2a2a" stroke-width="1.2"/>
<text x="151.27" y="538.00" font-size="21.0" textLength="142.39" lengthAdjust="spacingAndGlyphs" fill="#1c1c1c" stroke="#1c1c1c" stroke-width="0.60" stroke-linejoin="round"><tspan font-size="24.6">B</tspan><tspan font-size="21.0">u</tspan><tspan font-size="21.0">s</tspan><tspan font-size="21.0">i</tspan><tspan font-size="21.0">n</tspan><tspan font-size="21.0">e</tspan><tspan font-size="21.0">s</tspan><tspan font-size="21.0">s</tspan><tspan font-size="21.0"> </tspan><tspan font-size="24.6">V</tspan><tspan font-size="21.0">i</tspan><tspan font-size="21.0">e</tspan><tspan font-size="21.0">w</tspan></text>
<path d="M148.6 543.6 Q225 542.2 301 543.8" fill="none" stroke="#4a4a4a" stroke-width="2.8" stroke-linecap="round" filter="url(#blur1)"/>
<path d="M606.1 520.8 H612.5 M609.3 520.8 V537.4 M606.1 537.4 H612.5" fill="none" stroke="#1c1c1c" stroke-width="2.7" stroke-linecap="round"/>
<text x="615.35" y="538.50" font-size="25.50" textLength="15.33" lengthAdjust="spacingAndGlyphs" fill="#1c1c1c" stroke="#1c1c1c" stroke-width="0.60" stroke-linejoin="round" >T</text>
<text x="639.08" y="538.50" font-size="21.0" textLength="47.18" lengthAdjust="spacingAndGlyphs" fill="#1c1c1c" stroke="#1c1c1c" stroke-width="0.60" stroke-linejoin="round"><tspan font-size="24.6">V</tspan><tspan font-size="21.0">i</tspan><tspan font-size="21.0">e</tspan><tspan font-size="21.0">w</tspan></text>
<path d="M599 544.8 Q650 543.6 694.8 544.8" fill="none" stroke="#4a4a4a" stroke-width="2.8" stroke-linecap="round" filter="url(#blur1)"/>
<text x="154.70" y="571.50" font-size="19.5" textLength="40.25" lengthAdjust="spacingAndGlyphs" fill="#1c1c1c" stroke="#1c1c1c" stroke-width="0.50" stroke-linejoin="round"><tspan font-size="23.0">G</tspan><tspan font-size="19.5">o</tspan><tspan font-size="19.5">a</tspan><tspan font-size="19.5">l</tspan></text>
<text x="154.14" y="598.00" font-size="19.5" textLength="47.21" lengthAdjust="spacingAndGlyphs" fill="#1c1c1c" stroke="#1c1c1c" stroke-width="0.50" stroke-linejoin="round"><tspan font-size="23.0">F</tspan><tspan font-size="19.5">o</tspan><tspan font-size="19.5">c</tspan><tspan font-size="19.5">u</tspan><tspan font-size="19.5">s</tspan></text>
<text x="154.75" y="625.50" font-size="19.5" textLength="129.47" lengthAdjust="spacingAndGlyphs" fill="#1c1c1c" stroke="#1c1c1c" stroke-width="0.50" stroke-linejoin="round"><tspan font-size="23.0">S</tspan><tspan font-size="19.5">u</tspan><tspan font-size="19.5">c</tspan><tspan font-size="19.5">c</tspan><tspan font-size="19.5">e</tspan><tspan font-size="19.5">s</tspan><tspan font-size="19.5">s</tspan><tspan font-size="19.5"> </tspan><tspan font-size="23.0">M</tspan><tspan font-size="19.5">e</tspan><tspan font-size="19.5">t</tspan><tspan font-size="19.5">r</tspan><tspan font-size="19.5">i</tspan><tspan font-size="19.5">c</tspan></text>
<text x="626.93" y="571.50" font-size="19.5" textLength="38.98" lengthAdjust="spacingAndGlyphs" fill="#1c1c1c" stroke="#1c1c1c" stroke-width="0.50" stroke-linejoin="round"><tspan font-size="23.0">G</tspan><tspan font-size="19.5">o</tspan><tspan font-size="19.5">a</tspan><tspan font-size="19.5">l</tspan></text>
<text x="626.35" y="598.00" font-size="19.5" textLength="47.00" lengthAdjust="spacingAndGlyphs" fill="#1c1c1c" stroke="#1c1c1c" stroke-width="0.50" stroke-linejoin="round"><tspan font-size="23.0">F</tspan><tspan font-size="19.5">o</tspan><tspan font-size="19.5">c</tspan><tspan font-size="19.5">u</tspan><tspan font-size="19.5">s</tspan></text>
<text x="626.95" y="625.50" font-size="19.5" textLength="129.27" lengthAdjust="spacingAndGlyphs" fill="#1c1c1c" stroke="#1c1c1c" stroke-width="0.50" stroke-linejoin="round"><tspan font-size="23.0">S</tspan><tspan font-size="19.5">u</tspan><tspan font-size="19.5">c</tspan><tspan font-size="19.5">c</tspan><tspan font-size="19.5">e</tspan><tspan font-size="19.5">s</tspan><tspan font-size="19.5">s</tspan><tspan font-size="19.5"> </tspan><tspan font-size="23.0">M</tspan><tspan font-size="19.5">e</tspan><tspan font-size="19.5">t</tspan><tspan font-size="19.5">r</tspan><tspan font-size="19.5">i</tspan><tspan font-size="19.5">c</tspan></text>
<circle cx="132.4" cy="565.5" r="9.2" fill="#8fb0d8" stroke="#27384f" stroke-width="1.8"/>
<circle cx="132.4" cy="565.5" r="6.2" fill="#e9eff6" stroke="#4a6a93" stroke-width="1.4"/>
<circle cx="132.4" cy="565.5" r="3.4" fill="#7ea2cf" stroke="#27384f" stroke-width="1.2"/>
<line x1="132.4" y1="565.5" x2="143" y2="555" stroke="#27384f" stroke-width="1.6"/>
<path d="M140 554 L143.5 554.5 M143 551.5 L143.5 554.5 M141 556.5 L145 557" stroke="#27384f" stroke-width="1.4" fill="none"/>
<circle cx="132.4" cy="586" r="5.3" fill="#6c9bd2" stroke="#27384f" stroke-width="1.6"/>
<path d="M122.5 601 Q122.5 592.6 132.4 592.6 Q142.3 592.6 142.3 601 Z" fill="#6c9bd2" stroke="#27384f" stroke-width="1.6" stroke-linejoin="round"/>
<rect x="122.5" y="622" width="4.9" height="7.5" fill="#e8e4d6" stroke="#2b2b2b" stroke-width="1.2"/>
<rect x="130" y="616.5" width="4.3" height="13" fill="#d6e6cf" stroke="#2b2b2b" stroke-width="1.2"/>
<rect x="138" y="612" width="5" height="17.5" fill="#9cc49a" stroke="#3b5a3b" stroke-width="1.2"/>
<line x1="120.6" y1="629.8" x2="145.4" y2="629.8" stroke="#2b2b2b" stroke-width="1.6"/>
<polyline points="124.3,615.8 131.8,610.2 134.9,612 141.7,607" fill="none" stroke="#2b2b2b" stroke-width="1.2"/>
<polygon points="616.3,562.8 616.5,564.8 613.3,566.5 612.9,567.9 614.6,571.1 613.3,572.6 609.9,571.6 608.6,572.3 607.6,575.7 605.6,575.9 603.9,572.7 602.5,572.3 599.3,574.0 597.8,572.7 598.8,569.3 598.1,568.0 594.7,567.0 594.5,565.0 597.7,563.3 598.1,561.9 596.4,558.7 597.7,557.2 601.1,558.2 602.4,557.5 603.4,554.1 605.4,553.9 607.1,557.1 608.5,557.5 611.7,555.8 613.2,557.1 612.2,560.5 612.9,561.8" fill="#7aa0d0" stroke="#27384f" stroke-width="1.6" stroke-linejoin="round"/>
<circle cx="605.5" cy="564.9" r="3" fill="#f3f1e9" stroke="#27384f" stroke-width="1.3"/>
<rect x="595.6" y="581" width="20.4" height="6.2999999999999545" rx="2.2" fill="#9ab4d4" stroke="#27384f" stroke-width="1.5"/>
<line x1="598.5" y1="584.15" x2="603" y2="584.15" stroke="#27384f" stroke-width="1"/>
<rect x="595.6" y="589" width="20.4" height="6.2999999999999545" rx="2.2" fill="#9ab4d4" stroke="#27384f" stroke-width="1.5"/>
<line x1="598.5" y1="592.15" x2="603" y2="592.15" stroke="#27384f" stroke-width="1"/>
<rect x="595.6" y="596" width="20.4" height="5.7999999999999545" rx="2.2" fill="#9ab4d4" stroke="#27384f" stroke-width="1.5"/>
<line x1="598.5" y1="598.9" x2="603" y2="598.9" stroke="#27384f" stroke-width="1"/>
<path d="M596.8 625.8 A9.6 9.6 0 0 1 606.2 611.2" fill="none" stroke="#4f6f52" stroke-width="3.4"/>
<path d="M606.2 611.2 A9.6 9.6 0 0 1 615.6 625.8" fill="none" stroke="#6e5b4a" stroke-width="3.4"/>
<path d="M596.8 625.8 A9.6 9.6 0 0 1 615.6 625.8" fill="none" stroke="#2b2b2b" stroke-width="0.8"/>
<line x1="605" y1="622" x2="609.5" y2="616.5" stroke="#2b2b2b" stroke-width="2.2" stroke-linecap="round"/>
</svg></body></html>
